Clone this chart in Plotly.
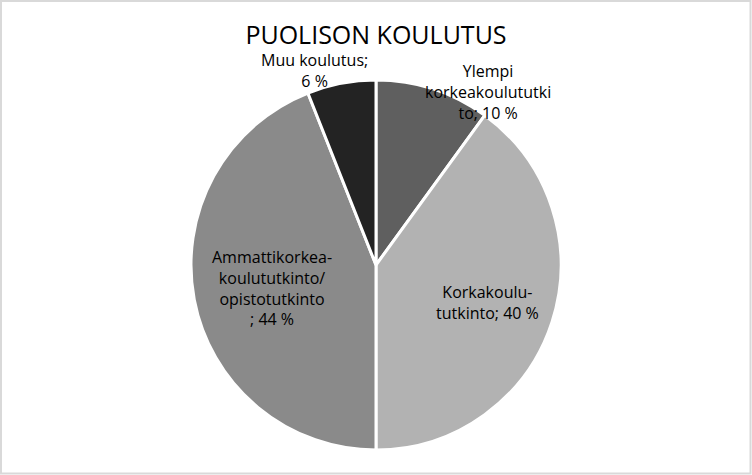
import plotly.graph_objects as go

# slices, clockwise from 12 o'clock
labels = ["Ylempi korkeakoulututkinto", "Korkakoulututkinto",
          "Ammattikorkeakoulututkinto/opistotutkinto", "Muu koulutus"]
values = [10, 40, 44, 6]
label_text = ["Ylempi<br>korkeakoulututki<br>to; 10 %",
              "Korkakoulu-<br>tutkinto; 40 %",
              "Ammattikorkea-<br>koulututkinto/<br>opistotutkinto<br>; 44 %",
              "Muu koulutus;<br>6 %"]
colors = ["#5f5f5f", "#b2b2b2", "#8a8a8a", "#232323"]

W, H = 752, 475
L, R, T, B = 191, 191, 80, 25
pw, ph = W - L - R, H - T - B

# label box centres in pixels, like the Excel data labels
label_pos = [(488, 92), (487, 302), (272, 288), (314, 70)]

fig = go.Figure(go.Pie(
    labels=labels,
    values=values,
    textinfo="none",
    sort=False,
    direction="clockwise",
    rotation=0,
    marker=dict(colors=colors, line=dict(color="white", width=3)),
    showlegend=False,
    hoverinfo="label+percent",
))

for txt, (px, py) in zip(label_text, label_pos):
    fig.add_annotation(
        text=txt, xref="paper", yref="paper",
        x=(px - L) / pw, y=1 - (py - T) / ph,
        xanchor="center", yanchor="middle", showarrow=False, align="center",
        font=dict(family="Open Sans", size=16, color="#000000"),
    )

fig.update_layout(
    width=W, height=H,
    margin=dict(l=L, r=R, t=T, b=B),
    paper_bgcolor="white",
    title=dict(text="PUOLISON KOULUTUS", x=376 / W, xanchor="center",
               y=1 - 35 / H, yanchor="middle",
               font=dict(family="Open Sans", size=25, color="#000000")),
    shapes=[dict(type="rect", xref="paper", yref="paper",
                 x0=-(L - 1) / pw, x1=1 + (R - 1.5) / pw,
                 y0=-(B - 1.5) / ph, y1=1 + (T - 1) / ph,
                 line=dict(color="#d9d9d9", width=2))],
)

# page body has an 8px default margin; drop it so the chart sits at 0,0
fig.write_html("out.html", config={"displayModeBar": False},
               post_script="document.body.style.margin='0';")
